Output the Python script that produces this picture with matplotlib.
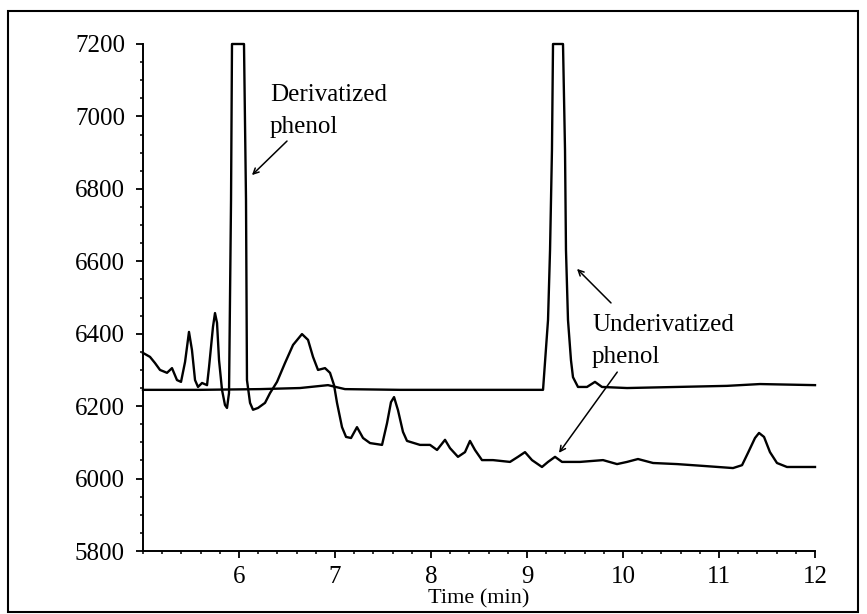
import matplotlib
matplotlib.use("Agg")
import matplotlib.pyplot as plt
from matplotlib.ticker import MultipleLocator, FixedLocator
from matplotlib.patches import Rectangle

# Trace with derivatized phenol peak (~6.0 min)
deriv_time = [5.000, 5.073, 5.125, 5.177, 5.250, 5.302, 5.354, 5.396, 5.438, 5.479,
              5.510, 5.542, 5.573, 5.615, 5.667, 5.688, 5.729, 5.750, 5.771, 5.792,
              5.823, 5.854, 5.875, 5.896, 5.917, 5.927, 6.052, 6.073, 6.083, 6.115,
              6.146, 6.198, 6.271, 6.323, 6.396, 6.479, 6.563, 6.656, 6.719, 6.771,
              6.823, 6.896, 6.948, 6.990, 7.021, 7.073, 7.115, 7.167, 7.229, 7.292,
              7.365, 7.490, 7.542, 7.583, 7.615, 7.656, 7.708, 7.750, 7.885, 7.990,
              8.063, 8.146, 8.198, 8.281, 8.354, 8.406, 8.458, 8.531, 8.646, 8.823,
              8.906, 8.979, 9.052, 9.156, 9.219, 9.292, 9.365, 9.552, 9.792, 9.938,
              10.042, 10.156, 10.313, 10.563, 10.833, 11.146, 11.240, 11.302, 11.375, 11.417,
              11.469, 11.531, 11.604, 11.708, 11.844, 12.000]
deriv_signal = [6347, 6336, 6319, 6300, 6292, 6305, 6272, 6267, 6322, 6405,
                6355, 6272, 6253, 6264, 6258, 6308, 6419, 6457, 6430, 6327,
                6245, 6203, 6195, 6236, 6769, 7200, 7200, 6769, 6272, 6209,
                6190, 6195, 6209, 6236, 6267, 6319, 6369, 6399, 6383, 6336,
                6300, 6305, 6292, 6258, 6209, 6142, 6115, 6112, 6142, 6112,
                6098, 6093, 6153, 6211, 6225, 6189, 6129, 6104, 6093, 6093,
                6079, 6107, 6084, 6060, 6073, 6104, 6079, 6051, 6051, 6046,
                6060, 6073, 6051, 6032, 6046, 6060, 6046, 6046, 6051, 6040,
                6046, 6054, 6043, 6040, 6035, 6029, 6037, 6071, 6112, 6126,
                6115, 6073, 6043, 6032, 6032, 6032]

# Trace with underivatized phenol peak (~9.3 min)
underiv_time = [5.000, 5.594, 6.219, 6.635, 6.927, 7.104, 7.677, 8.510, 9.167, 9.219,
                9.240, 9.260, 9.271, 9.375, 9.396, 9.406, 9.427, 9.458, 9.479, 9.531,
                9.625, 9.708, 9.781, 10.042, 10.563, 11.083, 11.427, 12.000]
underiv_signal = [6245, 6245, 6247, 6250, 6258, 6247, 6245, 6245, 6245, 6438,
                  6631, 6907, 7200, 7200, 6907, 6631, 6438, 6327, 6280, 6253,
                  6253, 6267, 6253, 6250, 6253, 6256, 6261, 6258]

x_ticks = [6, 7, 8, 9, 10, 11, 12]
y_ticks = [5800, 6000, 6200, 6400, 6600, 6800, 7000, 7200]

FONT = "Liberation Serif"
plt.rcParams["font.family"] = [FONT, "DejaVu Serif"]

fig = plt.figure(figsize=(8.67, 6.14), dpi=100)
ax = fig.add_axes([143/867, 1-551/614, (815-143)/867, (551-44)/614])

ax.plot(deriv_time, deriv_signal, color="black", lw=1.7, clip_on=False)
ax.plot(underiv_time, underiv_signal, color="black", lw=1.7, clip_on=False)

ax.set_xlim(5, 12)
ax.set_ylim(5800, 7200)
ax.xaxis.set_major_locator(FixedLocator(x_ticks))
ax.xaxis.set_minor_locator(MultipleLocator(0.2))
ax.yaxis.set_major_locator(FixedLocator(y_ticks))
ax.yaxis.set_minor_locator(MultipleLocator(50))
ax.spines["top"].set_visible(False)
ax.spines["right"].set_visible(False)
for s in ("left", "bottom"):
    ax.spines[s].set_linewidth(1.4)
ax.tick_params(axis="both", which="major", direction="out", length=5, width=1.3,
               labelsize=18)
ax.tick_params(axis="both", which="minor", direction="out", length=2.5, width=1.1)
ax.tick_params(axis="y", which="major", pad=8)
ax.tick_params(axis="x", which="major", pad=6)
ax.set_xlabel("Time (min)", fontsize=16, labelpad=1)

ax.annotate("", xy=(6.135, 6838), xytext=(6.50, 6932),
            arrowprops=dict(arrowstyle="->", color="black", lw=1.1,
                            shrinkA=0, shrinkB=0))
ax.text(6.323, 7043, "Derivatized", fontsize=18, va="baseline", ha="left")
ax.text(6.323, 6954, "phenol", fontsize=18, va="baseline", ha="left")

ax.annotate("", xy=(9.521, 6579), xytext=(9.875, 6485),
            arrowprops=dict(arrowstyle="->", color="black", lw=1.1,
                            shrinkA=0, shrinkB=0))
ax.annotate("", xy=(9.333, 6071), xytext=(9.94, 6294),
            arrowprops=dict(arrowstyle="->", color="black", lw=1.1,
                            shrinkA=0, shrinkB=0))
ax.text(9.677, 6408, "Underivatized", fontsize=18, va="baseline", ha="left")
ax.text(9.677, 6319, "phenol", fontsize=18, va="baseline", ha="left")

fig.patches.append(Rectangle((8/867, 1-612/614), (858-8)/867, (612-11)/614,
                             transform=fig.transFigure, fill=False,
                             edgecolor="black", lw=1.5))

fig.savefig("out.png", dpi=100)
